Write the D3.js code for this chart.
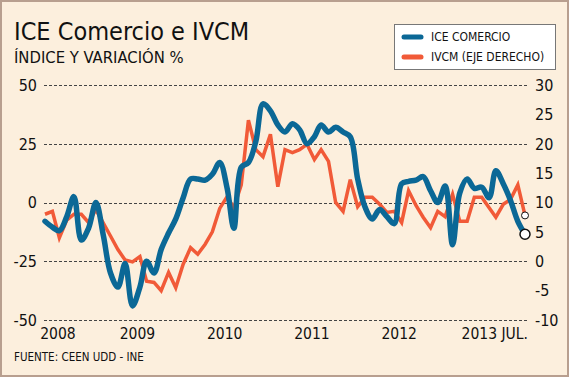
<!DOCTYPE html>
<html>
<head>
<meta charset="utf-8">
<script src="https://cdn.jsdelivr.net/npm/d3@7"></script>
<style>
  html, body { margin: 0; padding: 0; background: #fcefdd; }
  svg { display: block; }
  text { font-family: "DejaVu Sans Condensed", "DejaVu Sans", sans-serif; fill: #111; }
</style>
</head>
<body>
<svg id="chart" width="569" height="377"></svg>
<script>
// datos mensuales, ene 2008 - jul 2013
var startMonth = [2008, 0];
var ice = [-8, -10.5, -12, -6, 2.5, -16, -11, 0, -14, -30,
	-36, -26, -44, -36, -25, -30, -20, -13, -7, 2,
	10, 10, 9.5, 12, 17, 6, -11, 15, 17, 26,
	42, 39, 33, 30, 33.5, 31, 25, 28, 33, 30,
	32, 30, 28, 10, -2, -7, -3, -6, -9, 8,
	9, 9.5, 11, 5, 0, 7, -18, 4, 10, 6,
	6.5, 2, 13.5, 8, 1, -8, -13.5];
var ivcm = [8, 8.5, 4, 7, 8, 8, 6.6, 8.8, 6.5, 4.3,
	2, 0.2, -0.1, 0.8, -3.4, -3.6, -5, -1.9, -4.5, -0.5,
	2.3, 1.2, 2.9, 5, 9, 11, 9.1, 13, 24, 19,
	17.8, 21.6, 12.7, 19, 18.5, 19, 19.9, 17.3, 19, 17,
	10, 8.5, 13.9, 9.3, 10.9, 10.9, 9.7, 8.3, 8.5, 6.6,
	12, 9.5, 7.5, 5.7, 8.5, 7.6, 11.4, 6.8, 6.8, 10.9,
	10.9, 9.1, 7.5, 9.7, 10.5, 13, 7.8];
var leftTicks = [50, 25, 0, -25, -50];
var rightTicks = [30, 25, 20, 15, 10, 5, 0, -5, -10];
var yearLabels = ["2008", "2009", "2010", "2011", "2012", "2013 JUL."];
var yearDates = [2008, 2009, 2010, 2011, 2012, 2013];

var blue = "#0b6896", orange = "#f15a38";

var svg = d3.select("#chart");

// fondo y borde
svg.append("rect").attr("x", 1).attr("y", 1).attr("width", 567).attr("height", 375)
	.attr("fill", "#fcefdd").attr("stroke", "#b89f8f").attr("stroke-width", 2);

var dates = ice.map(function(d, i) { return new Date(startMonth[0], startMonth[1] + i, 1); });

var x = d3.scaleTime().domain([dates[0], dates[dates.length - 1]]).range([45, 525]);
var yL = d3.scaleLinear().domain([-50, 50]).range([320, 85]);
var yR = d3.scaleLinear().domain([-10, 30]).range([320, 85]);

// titulos
svg.append("text").attr("x", 14).attr("y", 40).style("font-size", "25px").text("ICE Comercio e IVCM");
svg.append("text").attr("x", 14).attr("y", 63).style("font-size", "16.5px").text("ÍNDICE Y VARIACIÓN %");
svg.append("text").attr("x", 14).attr("y", 361).style("font-size", "11.5px").text("FUENTE: CEEN UDD - INE");

// grilla
svg.append("g").selectAll("line").data(leftTicks).enter().append("line")
	.attr("x1", 44).attr("x2", 528)
	.attr("y1", function(d) { return Math.round(yL(d)) + 0.5; })
	.attr("y2", function(d) { return Math.round(yL(d)) + 0.5; })
	.attr("stroke", "#444").attr("stroke-width", 1).attr("stroke-dasharray", "3,2");

// ejes
svg.append("g").selectAll("text").data(leftTicks).enter().append("text")
	.attr("x", 37).attr("y", function(d) { return yL(d); }).attr("dy", "0.36em")
	.attr("text-anchor", "end").style("font-size", "16px")
	.text(function(d) { return d; });

svg.append("g").selectAll("text").data(rightTicks).enter().append("text")
	.attr("x", 535).attr("y", function(d) { return yR(d); }).attr("dy", "0.36em")
	.attr("text-anchor", "start").style("font-size", "16px")
	.text(function(d) { return d; });

svg.append("g").selectAll("text").data(yearLabels).enter().append("text")
	.attr("x", function(d, i) {
		if (i == yearLabels.length - 1) return 528;
		return Math.max(58, x(new Date(yearDates[i], 0, 1)) + 5);
	})
	.attr("y", 339)
	.attr("text-anchor", function(d, i) { return i == yearLabels.length - 1 ? "end" : "middle"; })
	.style("font-size", "15.5px")
	.text(function(d) { return d; });

// lineas
var lineR = d3.line()
	.x(function(d, i) { return x(dates[i]); })
	.y(function(d) { return yR(d); });
var lineL = d3.line()
	.curve(d3.curveCatmullRom.alpha(0.5))
	.x(function(d, i) { return x(dates[i]); })
	.y(function(d) { return yL(d); });

svg.append("path").datum(ivcm).attr("d", lineR)
	.attr("fill", "none").attr("stroke", orange).attr("stroke-width", 3.5)
	.attr("stroke-linejoin", "miter");
svg.append("path").datum(ice).attr("d", lineL)
	.attr("fill", "none").attr("stroke", blue).attr("stroke-width", 5.5)
	.attr("stroke-linejoin", "round").attr("stroke-linecap", "round");

// marcadores finales
var n = ice.length - 1;
svg.append("circle").attr("cx", x(dates[n])).attr("cy", yR(ivcm[n])).attr("r", 3.5)
	.attr("fill", "#fff").attr("stroke", "#111").attr("stroke-width", 1);
svg.append("circle").attr("cx", x(dates[n])).attr("cy", yL(ice[n])).attr("r", 5)
	.attr("fill", "#fff").attr("stroke", "#111").attr("stroke-width", 1.5);

// leyenda
var lg = svg.append("g").attr("transform", "translate(394,24)");
lg.append("rect").attr("x", 0.5).attr("y", 0.5).attr("width", 161).attr("height", 45)
	.attr("fill", "#fff").attr("stroke", "#777").attr("stroke-width", 1);
var items = [["ICE COMERCIO", blue], ["IVCM (EJE DERECHO)", orange]];
items.forEach(function(it, i) {
	var yy = 13 + i * 20;
	lg.append("line").attr("x1", 10).attr("x2", 27).attr("y1", yy).attr("y2", yy)
		.attr("stroke", it[1]).attr("stroke-width", 5).attr("stroke-linecap", "round");
	lg.append("text").attr("x", 37).attr("y", yy).attr("dy", "0.36em")
		.style("font-size", "12px").text(it[0]);
});
</script>
</body>
</html>
